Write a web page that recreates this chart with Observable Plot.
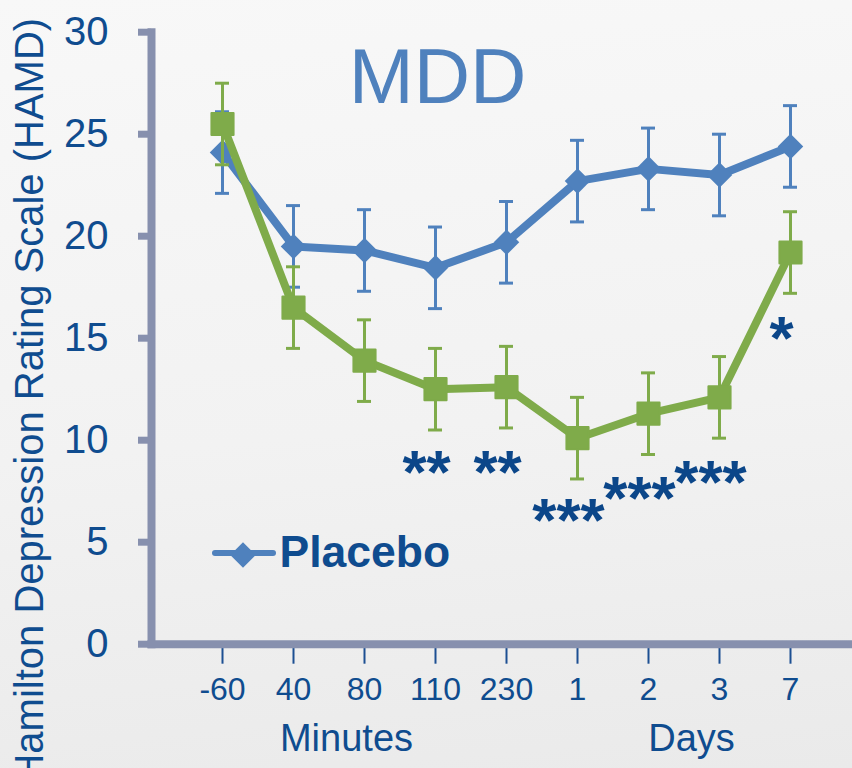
<!DOCTYPE html>
<html><head><meta charset="utf-8">
<script src="https://cdn.jsdelivr.net/npm/d3@7"></script>
<script src="https://cdn.jsdelivr.net/npm/@observablehq/plot@0.6"></script>
<style>
html,body{margin:0;padding:0;}
body{width:852px;height:768px;overflow:hidden;background:linear-gradient(175deg,#f8f8f8 0%,#f2f2f2 55%,#eaeaea 100%);}
#chart svg{display:block;}
</style></head><body><div id="chart"></div>
<script>
// ---- data ----
const xLabels = ["-60","40","80","110","230","1","2","3","7"];
const placebo = [24.1,19.5,19.3,18.45,19.7,22.7,23.3,23.0,24.4];
const placeboErr = [2,2,2,2,2,2,2,2,2];
const drug = [25.5,16.5,13.9,12.5,12.6,10.1,11.3,12.1,19.2];
const drugErr = [2,2,2,2,2,2,2,2,2];
const starLabels = ["**","**","***","***","***","*"];
const starAt = ["110","230","1","2","3","7"];
const starY = [8.9,8.9,6.55,7.63,8.42,15.5];
const yTicks = [0,5,10,15,20,25,30];

const FONT = '"Liberation Sans", Arial, Helvetica, sans-serif';
const BLUE = "#4f81bd", GREEN = "#7fab4a", AXIS = "#8790ae", TEXT = "#0f4c8f", TICK = "#1c4f92", STAR = "#0b4689";

const rows = xLabels.map((x, i) => ({x, placebo: placebo[i], pErr: placeboErr[i], drug: drug[i], dErr: drugErr[i]}));
const stars = starLabels.map((t, i) => ({t, x: starAt[i], y: starY[i]}));

const errMarks = (key, errKey, color) => [
  Plot.ruleX(rows, {x: "x", y1: d => d[key] - d[errKey], y2: d => d[key] + d[errKey], stroke: color, strokeWidth: 3}),
  Plot.ruleY(rows, {x1: "x", x2: "x", y: d => d[key] + d[errKey], insetLeft: -7, insetRight: -7, stroke: color, strokeWidth: 3}),
  Plot.ruleY(rows, {x1: "x", x2: "x", y: d => d[key] - d[errKey], insetLeft: -7, insetRight: -7, stroke: color, strokeWidth: 3})
];

const plot = Plot.plot({
  width: 852, height: 768,
  marginLeft: 151, marginRight: 0, marginTop: 31.7, marginBottom: 124.3,
  style: {background: "transparent", fontFamily: FONT, color: TEXT, overflow: "visible"},
  x: {type: "point", domain: xLabels, range: [221, 790], padding: 0},
  y: {domain: [0, 30]},
  marks: [
    Plot.axisY(yTicks, {anchor: "left", tickSize: 13, tickPadding: 30, stroke: AXIS, strokeWidth: 7, fill: TEXT, fontSize: 40, label: null}),
    Plot.axisX({anchor: "bottom", tickSize: 20, tickPadding: 13, stroke: TICK, strokeWidth: 2, fill: TEXT, fontSize: 32, label: null}),
    Plot.frame({anchor: "left", stroke: AXIS, strokeWidth: 8}),
    Plot.frame({anchor: "bottom", stroke: AXIS, strokeWidth: 8}),
    ...errMarks("placebo", "pErr", BLUE),
    Plot.line(rows, {x: "x", y: "placebo", stroke: BLUE, strokeWidth: 8, strokeLinejoin: "round"}),
    Plot.dot(rows, {x: "x", y: "placebo", symbol: "diamond2", r: 11.5, fill: BLUE, stroke: "none"}),
    ...errMarks("drug", "dErr", GREEN),
    Plot.line(rows, {x: "x", y: "drug", stroke: GREEN, strokeWidth: 8, strokeLinejoin: "round"}),
    Plot.dot(rows, {x: "x", y: "drug", symbol: "square", r: 12.5, fill: GREEN, stroke: GREEN, strokeWidth: 2, strokeLinejoin: "round"}),
    Plot.text(stars, {x: "x", y: "y", text: "t", dx: -9, dy: 11, fontSize: 62, fontWeight: "bold", fill: STAR, lineAnchor: "middle", style: {letterSpacing: "2px"}}),
    Plot.text(["MDD"], {frameAnchor: "top-left", dx: 286, dy: 46, fontSize: 78, fill: BLUE, textAnchor: "middle", lineAnchor: "middle"}),
    Plot.text(["Hamilton Depression Rating Scale (HAMD)"], {frameAnchor: "left", rotate: -90, dx: -121.5, dy: 62, fontSize: 40, fill: TEXT, textAnchor: "middle", lineAnchor: "middle"}),
    Plot.text(["Minutes"], {frameAnchor: "bottom-left", dx: 195, dy: 95, fontSize: 38, fill: TEXT, textAnchor: "middle", lineAnchor: "middle"}),
    Plot.text(["Days"], {frameAnchor: "bottom-left", dx: 540, dy: 95, fontSize: 38, fill: TEXT, textAnchor: "middle", lineAnchor: "middle"}),
    Plot.text(["Placebo"], {frameAnchor: "bottom-left", dx: 128, dy: -91.7, fontSize: 44.5, fontWeight: "bold", fill: TEXT, textAnchor: "start", lineAnchor: "middle"})
  ]
});

// legend swatch (line + diamond) for Placebo
const svg = d3.select(plot);
const g = svg.append("g").attr("aria-label", "legend");
g.append("line").attr("x1", 215).attr("x2", 273).attr("y1", 553).attr("y2", 553)
  .attr("stroke", BLUE).attr("stroke-width", 6).attr("stroke-linecap", "round");
g.append("path").attr("transform", "translate(243,555)")
  .attr("d", d3.symbol(d3.symbolDiamond2, Math.PI * 11.5 * 11.5)()).attr("fill", BLUE);

document.getElementById("chart").append(plot);
</script>
</body></html>
